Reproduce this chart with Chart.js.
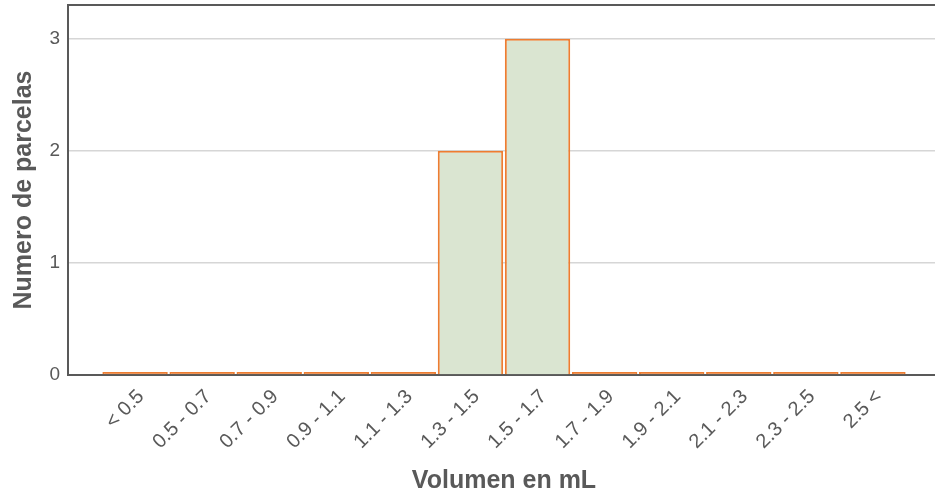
<!DOCTYPE html>
<html>
<head>
<meta charset="utf-8">
<script src="https://cdn.jsdelivr.net/npm/chart.js@4.4.0/dist/chart.umd.min.js"></script>
<style>
    html, body { margin: 0; padding: 0; background: #fff; overflow: hidden; }
    #wrap { width: 940px; height: 496px; position: relative; }
</style>
</head>
<body>
<div id="wrap"><canvas id="histChart"></canvas></div>
<script>
// Data
const categories = ['< 0.5', '0.5 - 0.7', '0.7 - 0.9', '0.9 - 1.1', '1.1 - 1.3', '1.3 - 1.5',
    '1.5 - 1.7', '1.7 - 1.9', '1.9 - 2.1', '2.1 - 2.3', '2.3 - 2.5', '2.5 <'];
const parcelCounts = [0, 0, 0, 0, 0, 2, 3, 0, 0, 0, 0, 0];
const yTicks = [0, 1, 2, 3];

const axisGrey = '#595959';
const barOrange = '#ed7d31';
const barGreen = '#dae5d1';

// draws the top frame line of the plot area
const topFrame = {
    id: 'topFrame',
    afterDraw(chart) {
        const { ctx, chartArea } = chart;
        ctx.save();
        ctx.strokeStyle = axisGrey;
        ctx.lineWidth = 2;
        ctx.beginPath();
        ctx.moveTo(chartArea.left - 1, chartArea.top);
        ctx.lineTo(chartArea.right, chartArea.top);
        ctx.stroke();
        ctx.restore();
    }
};

const ctx = document.getElementById('histChart').getContext('2d');
new Chart(ctx, {
    type: 'bar',
    data: {
        datasets: [{
            label: 'Numero de parcelas',
            data: parcelCounts.map((v, i) => ({ x: i, y: v })),
            // empty classes only show their outline, i.e. a flat orange line
            backgroundColor: c => (c.raw && c.raw.y === 0) ? barOrange : barGreen,
            borderColor: barOrange,
            borderWidth: 2,
            minBarLength: 3,
            barPercentage: 0.975,
            categoryPercentage: 1
        }]
    },
    options: {
        responsive: true,
        maintainAspectRatio: false,
        animation: false,
        layout: { padding: { top: 5, left: 0, right: 0, bottom: 0 } },
        plugins: {
            legend: { display: false },
            tooltip: { enabled: false }
        },
        scales: {
            x: {
                type: 'linear',
                min: -1,
                max: 12,
                offset: false,
                z: 1,
                grid: { display: false, drawTicks: false, offset: false },
                border: { display: true, color: axisGrey, width: 2 },
                ticks: {
                    stepSize: 1,
                    autoSkip: false,
                    minRotation: 45,
                    maxRotation: 45,
                    padding: 10,
                    labelOffset: 6,
                    color: axisGrey,
                    font: { family: 'Liberation Sans', size: 20 },
                    callback: v => categories[v] ?? ''
                },
                title: {
                    display: true,
                    text: 'Volumen en mL',
                    color: axisGrey,
                    font: { family: 'Liberation Sans', size: 25, weight: 'bold' },
                    padding: { top: 0, bottom: 0 }
                },
                afterFit(scale) {
                    scale.height = 121;
                    scale.paddingLeft = 0;
                    scale.paddingRight = 0;
                }
            },
            y: {
                min: 0,
                max: 3.3,
                z: 1,
                grid: { color: '#d6d6d6', lineWidth: 1.5, drawTicks: false },
                border: { display: true, color: axisGrey, width: 2 },
                ticks: {
                    padding: 8,
                    color: axisGrey,
                    font: { family: 'Liberation Sans', size: 19 }
                },
                afterBuildTicks(scale) {
                    scale.ticks = yTicks.map(v => ({ value: v }));
                },
                title: {
                    display: true,
                    text: 'Numero de parcelas',
                    color: axisGrey,
                    font: { family: 'Liberation Sans', size: 25, weight: 'bold' },
                    padding: { top: 9, bottom: 0 }
                },
                afterFit(scale) {
                    scale.width = 68;
                    scale.paddingTop = 0;
                    scale.paddingBottom = 0;
                }
            }
        }
    },
    plugins: [topFrame]
});
</script>
</body>
</html>
